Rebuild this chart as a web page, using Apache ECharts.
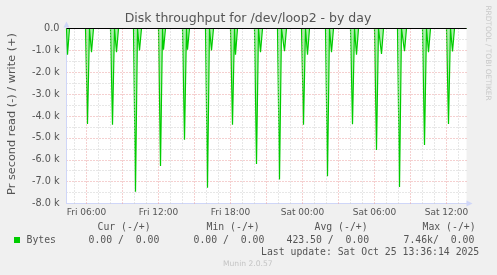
<!DOCTYPE html>
<html><head><meta charset="utf-8">
<script src="https://cdn.jsdelivr.net/npm/echarts@6/dist/echarts.min.js"></script>
<style>html,body{margin:0;padding:0;background:#f0f0f0;}#c{width:497px;height:275px;}</style>
</head><body><div id="c"></div>
<script>
// ---- data (time in minutes since Fri 00:00) ----
const chartTitle = 'Disk throughput for /dev/loop2 - by day';
const yAxisName = 'Pr second read (-) / write (+)';
const xMin = 260, xMax = 2260;
const xTickValues = [360, 720, 1080, 1440, 1800, 2160];
const xTickLabels = ['Fri 06:00', 'Fri 12:00', 'Fri 18:00', 'Sat 00:00', 'Sat 06:00', 'Sat 12:00'];
// first partial dip at the left edge
const edgeDipTime = 265, edgeDipValue = -1200;
// big read bursts
const burstTimes = [365, 490, 605, 730, 850, 965, 1090, 1210, 1325, 1445, 1565, 1690, 1810, 1925, 2050, 2170];
const burstValues = [-4360, -4400, -7460, -6290, -5090, -7280, -4400, -6190, -6900, -4400, -6750, -4380, -5550, -7250, -5320, -4360];
// following small dips
const dipTimes = [385, 510, 625, 745, 865, 985, 1105, 1230, 1350, 1465, 1585, 1710, 1835, 1950, 2070, 2190];
const dipValues = [-1080, -1080, -1000, -970, -970, -1000, -1200, -1080, -1040, -1200, -1080, -1200, -1160, -1040, -1080, -1050];
const legendHeaders = ['Cur (-/+)', 'Min (-/+)', 'Avg (-/+)', 'Max (-/+)'];
const legendValues = ['0.00 /  0.00', '0.00 /  0.00', '423.50 /  0.00', '7.46k/  0.00'];
const lastUpdate = 'Last update: Sat Oct 25 13:36:14 2025';

// ---- build series ----
const data = [[xMin, 0], [edgeDipTime, edgeDipValue], [edgeDipTime + 10, 0]];
for (let i = 0; i < burstTimes.length; i++) {
  const t = burstTimes[i];
  data.push([t - 10, 0], [t, burstValues[i]], [t + 10, 0], [dipTimes[i], dipValues[i]], [dipTimes[i] + 10, 0]);
}
data.push([xMax, 0]);

const gridLines = [];
for (let m = 300; m < xMax; m += 60) {
  const major = m % 180 === 0;
  gridLines.push({xAxis: m, lineStyle: {color: major ? '#eaa0a0' : '#cfcfcf', type: [1, 2], width: 1}});
}
gridLines.push({yAxis: 0, lineStyle: {color: '#000', type: 'solid', width: 1}});

const mono = '"DejaVu Sans Mono", monospace';
const txtCol = '#555';
const graphics = [
  {type: 'text', x: 248, y: 19, style: {text: chartTitle, font: '12.5px "DejaVu Sans"', fill: txtCol, textAlign: 'center', textVerticalAlign: 'middle'}},
  {type: 'text', x: 12, y: 114, rotation: Math.PI / 2, style: {text: yAxisName, font: '11.3px "DejaVu Sans"', fill: txtCol, textAlign: 'center', textVerticalAlign: 'middle'}},
  {type: 'text', x: 488, y: 53, rotation: -Math.PI / 2, style: {text: 'RRDTOOL / TOBI OETIKER', font: '7.4px "DejaVu Sans"', fill: '#c8c8c8', textAlign: 'center', textVerticalAlign: 'middle'}},
  {type: 'rect', shape: {x: 14, y: 237, width: 6, height: 6}, style: {fill: '#00cc00'}},
  {type: 'text', x: 26.5, y: 240, style: {text: 'Bytes', font: '9.8px ' + mono, fill: txtCol, textVerticalAlign: 'middle'}},
  {type: 'text', x: 261, y: 252, style: {text: lastUpdate, font: '9.8px ' + mono, fill: txtCol, textVerticalAlign: 'middle'}},
  {type: 'text', x: 223, y: 264, style: {text: 'Munin 2.0.57', font: '7.6px "DejaVu Sans"', fill: '#c4c4c4', textVerticalAlign: 'middle'}}
];
const headerX = [97.5, 206.5, 314.5, 422.5];
const valueX = [88.5, 193.5, 286.5, 403.5];
legendHeaders.forEach((h, i) => graphics.push({type: 'text', x: headerX[i], y: 227, style: {text: h, font: '9.8px ' + mono, fill: txtCol, textVerticalAlign: 'middle'}}));
legendValues.forEach((v, i) => graphics.push({type: 'text', x: valueX[i], y: 240, style: {text: v, font: '9.8px ' + mono, fill: txtCol, textVerticalAlign: 'middle'}}));

const chart = echarts.init(document.getElementById('c'), null, {renderer: 'canvas'});
chart.setOption({
  animation: false,
  backgroundColor: '#f0f0f0',
  grid: {left: 66.5, top: 28.5, width: 400, height: 175, show: true, backgroundColor: '#ffffff', borderWidth: 0},
  xAxis: {
    type: 'value', min: xMin, max: xMax,
    axisLine: {show: true, onZero: false, lineStyle: {color: '#cfd6f8', width: 1}, symbol: ['none', 'triangle'], symbolSize: [6, 6], symbolOffset: [0, 3]},
    axisTick: {show: false},
    splitLine: {show: false},
    axisLabel: {customValues: xTickValues, formatter: v => { const i = xTickValues.indexOf(v); return i >= 0 ? xTickLabels[i] : ''; }, color: txtCol, fontSize: 9, fontFamily: 'DejaVu Sans', margin: 5}
  },
  yAxis: {
    type: 'value', min: -8000, max: 0, interval: 500,
    axisLine: {show: true, lineStyle: {color: '#cfd6f8', width: 1}, symbol: ['none', 'triangle'], symbolSize: [6, 6], symbolOffset: [0, 4]},
    axisTick: {show: false},
    splitLine: {show: true, lineStyle: {color: ['#eaa0a0', '#cfcfcf'], type: [1, 2], width: 1}},
    axisLabel: {formatter: v => v === 0 ? '0.0' : (v % 1000 === 0 ? (v / 1000).toFixed(1) + ' k' : ''), color: txtCol, fontSize: 9.7, fontFamily: 'DejaVu Sans', margin: 7}
  },
  series: [
    {type: 'line', data: [[xMin, 0]], symbol: 'none', lineStyle: {opacity: 0}, z: 1, silent: true,
      markLine: {silent: true, symbol: ['none', 'none'], label: {show: false}, animation: false, data: gridLines}},
    {type: 'line', data: data, symbol: 'none', showSymbol: false, z: 3, lineStyle: {color: '#00cc00', width: 1.2},
      areaStyle: {color: 'rgba(0,204,0,0.45)', origin: 'end'}}
  ],
  graphic: graphics
});
</script></body></html>
